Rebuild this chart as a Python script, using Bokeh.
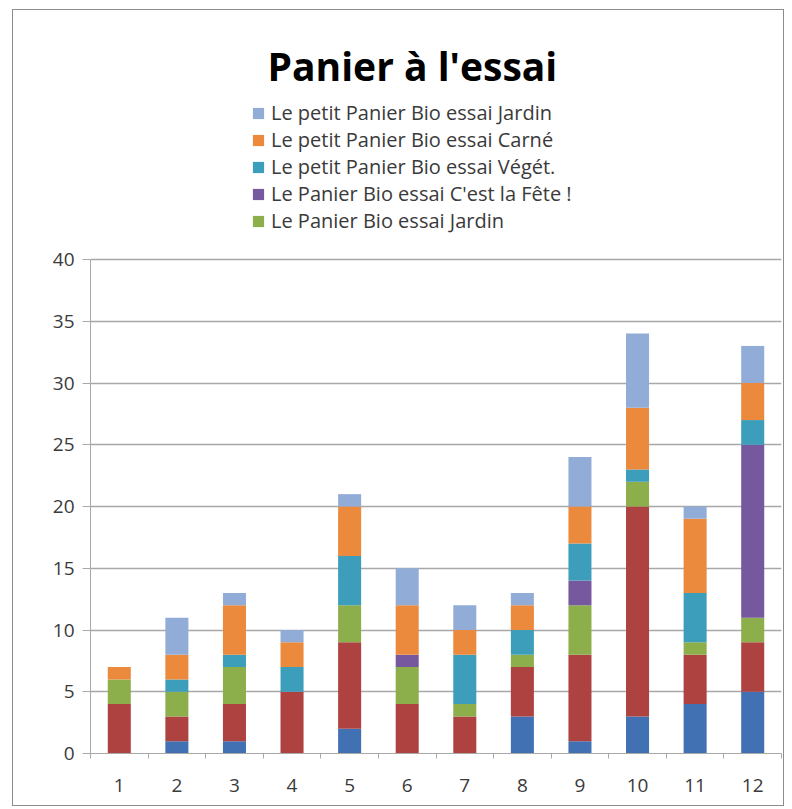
from bokeh.plotting import figure
from bokeh.models import Legend, LegendItem, Label, FixedTicker, Range1d
from bokeh.embed import file_html
from bokeh.resources import INLINE

# Paniers 1..12
mois = ["1", "2", "3", "4", "5", "6", "7", "8", "9", "10", "11", "12"]
positions = [1, 2, 3, 4, 5, 6, 7, 8, 9, 10, 11, 12]

# Series, stacked from bottom to top
serie_bleu = [0, 1, 1, 0, 2, 0, 0, 3, 1, 3, 4, 5]
serie_rouge = [4, 2, 3, 5, 7, 4, 3, 4, 7, 17, 4, 4]
jardin = [2, 2, 3, 0, 3, 3, 1, 1, 4, 2, 1, 2]
fete = [0, 0, 0, 0, 0, 1, 0, 0, 2, 0, 0, 14]
petit_veget = [0, 1, 1, 2, 4, 0, 4, 2, 3, 1, 4, 2]
petit_carne = [1, 2, 4, 2, 4, 4, 2, 2, 3, 5, 6, 3]
petit_jardin = [0, 3, 1, 1, 1, 3, 2, 1, 4, 6, 1, 3]

noms = [
    None,
    None,
    "Le Panier Bio essai Jardin",
    "Le Panier Bio essai C'est la Fête !",
    "Le petit Panier Bio essai Végét.",
    "Le petit Panier Bio essai Carné",
    "Le petit Panier Bio essai Jardin",
]
series = [serie_bleu, serie_rouge, jardin, fete, petit_veget, petit_carne, petit_jardin]
couleurs = ["#4171B3", "#AE4240", "#8CAE4B", "#75589E", "#3D9EBC", "#EB8A3C", "#92ACD8"]

FONT = "Open Sans"
GRIS_TEXTE = "#3a3a3a"
GRIS_LIGNE = "#a8a8a8"

# value axis goes 0..40; the frame extends above it to hold title and legend
Y_MAX_AXE = 40
Y_HAUT = Y_MAX_AXE * 743 / 494

p = figure(
    width=772, height=797,
    x_range=Range1d(0.5, 12.5), y_range=Range1d(0, Y_HAUT),
    output_backend="svg", toolbar_location=None,
    min_border_left=77, min_border_right=4,
    min_border_top=0, min_border_bottom=54,
)
p.margin = (9, 0, 0, 12)
p.styles = {"border": "1px solid #8c8c8c"}
p.outline_line_color = None
p.background_fill_color = "white"
p.border_fill_color = "white"

# stacked bars
bas = [0] * len(positions)
renderers = []
for vals, col in zip(series, couleurs):
    haut = [b + v for b, v in zip(bas, vals)]
    r = p.vbar(x=positions, bottom=bas, top=haut, width=0.4,
               fill_color=col, line_color=None)
    renderers.append(r)
    bas = haut

# axes
p.xgrid.grid_line_color = None
p.ygrid.grid_line_color = GRIS_LIGNE
p.ygrid.grid_line_width = 1.3

p.yaxis.ticker = FixedTicker(ticks=list(range(0, Y_MAX_AXE + 1, 5)))
p.yaxis.bounds = (0, Y_MAX_AXE)
p.yaxis.axis_line_color = GRIS_LIGNE
p.yaxis.major_tick_line_color = GRIS_LIGNE
p.yaxis.major_tick_in = 0
p.yaxis.major_tick_out = 8
p.yaxis.minor_tick_line_color = None
p.yaxis.major_label_standoff = 8
p.yaxis.major_label_text_font = FONT
p.yaxis.major_label_text_font_size = "19px"
p.yaxis.major_label_text_color = GRIS_TEXTE

p.xaxis.ticker = FixedTicker(ticks=positions,
                             minor_ticks=[x + 0.5 for x in range(0, 13)])
p.xaxis.major_label_overrides = {pos: m for pos, m in zip(positions, mois)}
p.xaxis.axis_line_color = GRIS_LIGNE
p.xaxis.major_tick_line_color = None
p.xaxis.major_tick_out = 0
p.xaxis.major_tick_in = 0
p.xaxis.minor_tick_line_color = GRIS_LIGNE
p.xaxis.minor_tick_in = 0
p.xaxis.minor_tick_out = 5
p.xaxis.major_label_standoff = 20
p.xaxis.major_label_text_font = FONT
p.xaxis.major_label_text_font_size = "19px"
p.xaxis.major_label_text_color = GRIS_TEXTE

# title
p.add_layout(Label(
    x=6.09, y=55.7,
    text="Panier à l'essai", text_font=FONT, text_font_style="bold",
    text_font_size="39px", text_color="black", text_align="center",
    text_baseline="alphabetic",
))

# legend (top series first)
items = [LegendItem(label=n, renderers=[r])
         for n, r in zip(noms[::-1], renderers[::-1]) if n is not None]
legend = Legend(
    items=items, location=(161, 519),
    label_text_font=FONT, label_text_font_size="20px",
    label_text_color=GRIS_TEXTE, label_height=25, label_standoff=6,
    glyph_width=14, glyph_height=14, spacing=0, padding=0, margin=0,
    border_line_color=None, background_fill_alpha=0,
)
p.add_layout(legend)

open("out.html", "w").write(file_html(p, INLINE))
